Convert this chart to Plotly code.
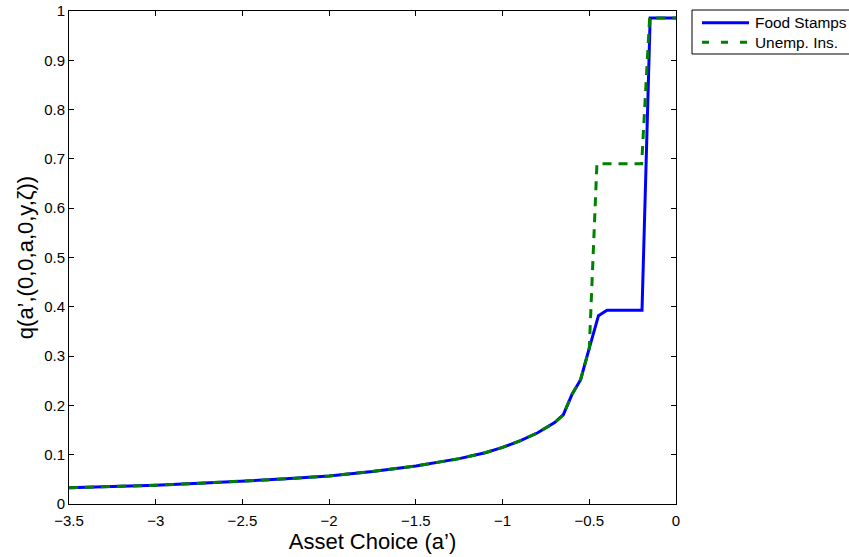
import plotly.graph_objects as go

asset = [-3.5, -3.25, -3.0, -2.75, -2.5, -2.25, -2.0, -1.75, -1.5, -1.25, -1.1, -1.0,
         -0.9, -0.8, -0.7, -0.65, -0.60, -0.55, -0.50]
q_common = [0.033, 0.035, 0.038, 0.042, 0.046, 0.051, 0.057, 0.066, 0.077, 0.092, 0.104, 0.115,
            0.128, 0.144, 0.165, 0.181, 0.222, 0.252, 0.316]

fs_x = asset + [-0.447, -0.398, -0.196, -0.149, 0.0]
fs_q = q_common + [0.382, 0.393, 0.393, 0.986, 0.986]

ui_x = asset + [-0.456, -0.198, -0.152, 0.0]
ui_q = q_common + [0.690, 0.690, 0.986, 0.986]

series_names = ["Food Stamps", "Unemp. Ins."]
series_colors = ["#0000ff", "#008000"]
series_dash = ["solid", "9px,7px"]
legend_dash = ["solid", "7px,12px"]

x_ticks = [-3.5, -3, -2.5, -2, -1.5, -1, -0.5, 0]
y_ticks = [0, 0.1, 0.2, 0.3, 0.4, 0.5, 0.6, 0.7, 0.8, 0.9, 1]

# the page body margin is removed (post_script), so the figure fills the window
W, H = 849, 557
AX_L, AX_R, AX_T, AX_B = 69, 676, 11, 504   # axes box in window pixels
L, R, T, B = AX_L, W - AX_R, AX_T, H - AX_B
PW, PH = W - L - R, H - T - B


def px(xw):
    return (xw - L) / PW


def py(yw):
    return (H - B - yw) / PH


fig = go.Figure()
for xs, ys, name, col, dash in zip([fs_x, ui_x], [fs_q, ui_q], series_names,
                                   series_colors, series_dash):
    fig.add_trace(go.Scatter(x=xs, y=ys, mode="lines", name=name,
                             line=dict(color=col, width=3, dash=dash)))

font = "Liberation Sans, Arial, Helvetica, sans-serif"

# boxed key at the top right, outside the axes (box runs past the right edge)
shapes = [dict(type="rect", xref="paper", yref="paper", x0=px(692), x1=px(880),
               y0=py(54), y1=py(10), line=dict(color="black", width=1),
               fillcolor="white", layer="above")]
annotations = []
for i, (name, col, dash) in enumerate(zip(series_names, series_colors, legend_dash)):
    yy = 22.7 + i * 19.6
    shapes.append(dict(type="line", xref="paper", yref="paper", x0=px(702), x1=px(749),
                       y0=py(yy), y1=py(yy), line=dict(color=col, width=3, dash=dash),
                       layer="above"))
    annotations.append(dict(text=name, xref="paper", yref="paper", x=px(753), y=py(yy),
                            xanchor="left", yanchor="middle", showarrow=False,
                            font=dict(size=15.4, family=font, color="black")))

fig.update_layout(
    width=W, height=H,
    margin=dict(l=L, r=R, t=T, b=B, pad=0),
    paper_bgcolor="white", plot_bgcolor="white",
    font=dict(family=font, size=15, color="black"),
    showlegend=False, hovermode=False,
    shapes=shapes, annotations=annotations,
    xaxis=dict(range=[-3.5, 0], tickvals=x_ticks, showgrid=False, zeroline=False,
               showline=True, linecolor="black", linewidth=1, mirror="ticks",
               ticks="inside", ticklen=5, tickcolor="black", automargin=False,
               ticklabelstandoff=3, ticklabeloverflow="allow",
               title=dict(text="Asset Choice (a’)", font=dict(size=22), standoff=1)),
    yaxis=dict(range=[0, 1], tickvals=y_ticks, showgrid=False, zeroline=False,
               showline=True, linecolor="black", linewidth=1, mirror="ticks",
               ticks="inside", ticklen=5, tickcolor="black", automargin=False,
               ticklabeloverflow="allow",
               title=dict(text="q(a’,(0,0,a,0,y,ζ))", font=dict(size=22), standoff=4)),
)
fig.write_html("out.html", config={"displayModeBar": False, "staticPlot": True},
               post_script="document.body.style.margin='0';document.body.style.overflow='hidden';")
